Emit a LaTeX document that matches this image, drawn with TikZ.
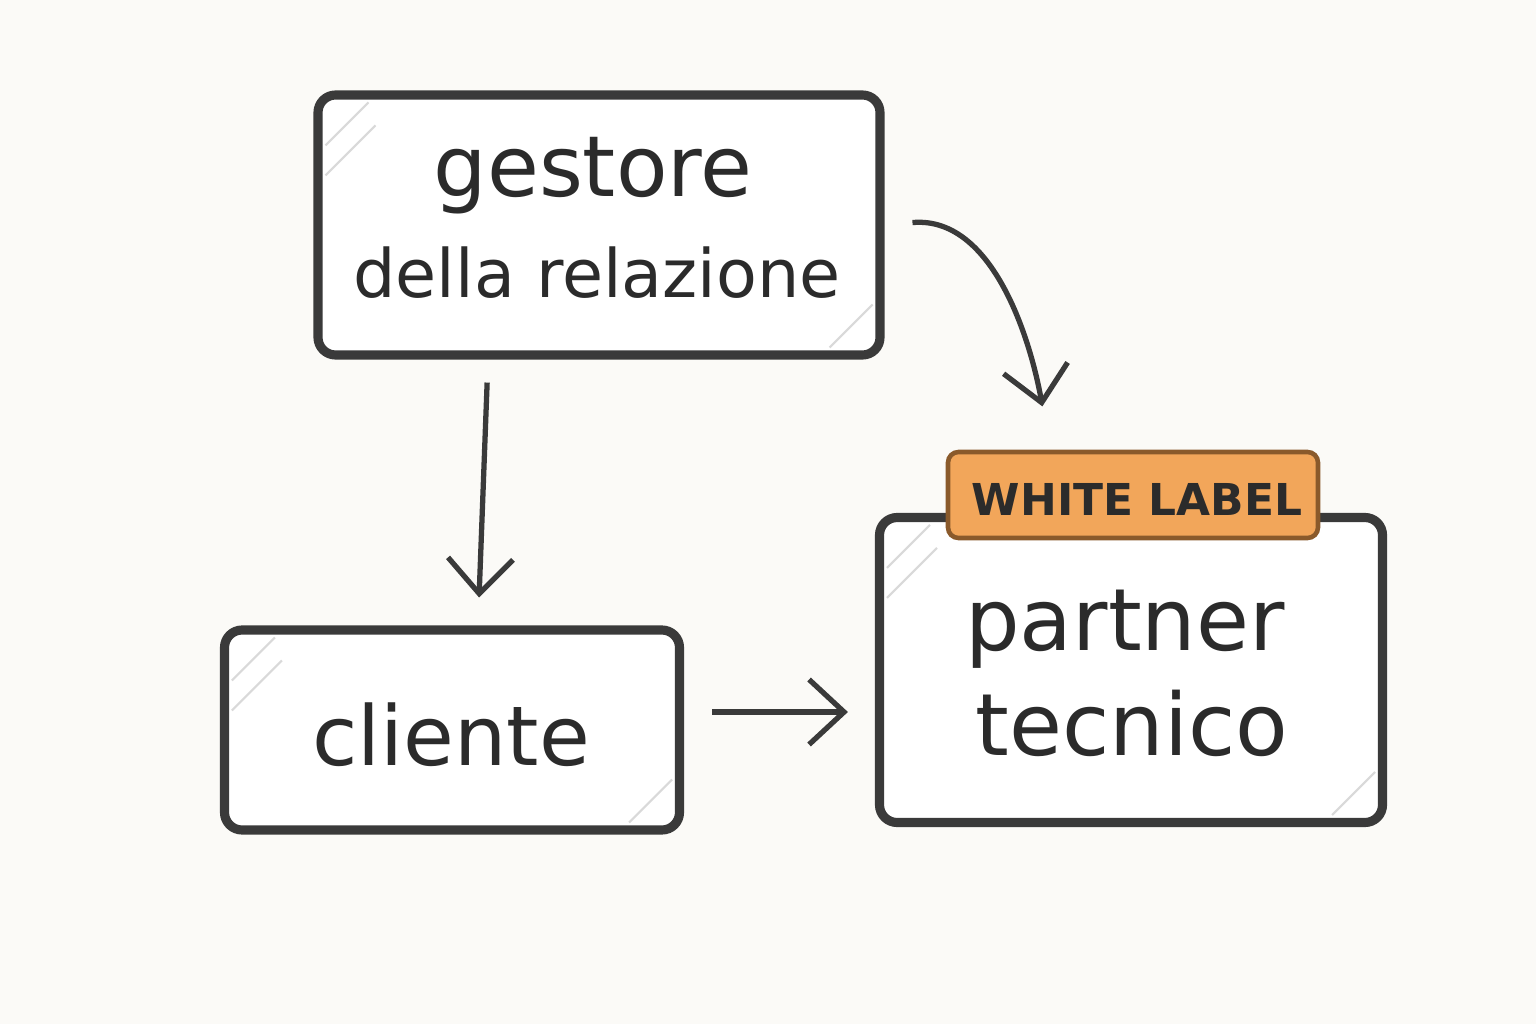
\documentclass[tikz,border=0pt]{standalone}
\usepackage{fontspec}
\setmainfont{DejaVu Sans}
\usetikzlibrary{arrows.meta}
\definecolor{paper}{HTML}{FBFAF7}
\definecolor{pencil}{HTML}{3A3A3A}
\definecolor{ink}{HTML}{2B2B2B}
\definecolor{tagfill}{HTML}{F2A65A}
\definecolor{tagline}{HTML}{8A5A2B}

\begin{document}
\begin{tikzpicture}
\tikzstyle{box}=[rectangle, draw=pencil, line width=2.6pt, rounded corners=5pt, fill=white, inner sep=0pt]
\tikzstyle{tag}=[box, draw=tagline, line width=1.3pt, rounded corners=3pt, fill=tagfill]
\tikzstyle{word}=[text=ink, anchor=base, inner sep=0pt]
\tikzstyle{hatch}=[black!15, line width=0.6pt]
\tikzstyle{pline}=[draw=pencil, line width=1.5pt, -{Straight Barb[length=3.5mm, width=6.5mm]}]

% Draw the paper
\fill[paper] (0,0) rectangle (15.36,10.24);
\useasboundingbox (0,0) rectangle (15.36,10.24);

% Draw the boxes
\node[box, minimum width=5.62cm, minimum height=2.6cm] (gestore) at (5.99, 7.99) {};
\node[box, minimum width=4.55cm, minimum height=2.0cm] (cliente) at (4.52, 2.94) {};
\node[box, minimum width=5.03cm, minimum height=3.05cm] (partner) at (11.31, 3.54) {};

% Pencil shading in the corners
\foreach \n in {gestore, cliente, partner} {
    \draw[hatch] ([xshift=0.12cm, yshift=-0.55cm]\n.north west) -- ++(0.43, 0.43);
    \draw[hatch] ([xshift=0.12cm, yshift=-0.85cm]\n.north west) -- ++(0.5, 0.5);
    \draw[hatch] ([xshift=-0.55cm, yshift=0.12cm]\n.south east) -- ++(0.43, 0.43);
};

\node[tag, minimum width=3.70cm, minimum height=0.86cm] (white) at (11.33, 5.29) {};

% Draw the texts
\node[word, font=\fontsize{24}{24}\selectfont] (gestoreA) at (5.93, 8.27) {gestore};
\node[word, font=\fontsize{19}{19}\selectfont] (gestoreB) at (5.97, 7.27) {della relazione};
\node[word, font=\fontsize{23.5}{24}\selectfont] (clienteA) at (4.51, 2.59) {cliente};
\node[word, font=\fontsize{24.5}{25}\selectfont] (partnerA) at (11.25, 3.74) {partner};
\node[word, font=\fontsize{24.5}{25}\selectfont] (partnerB) at (11.32, 2.69) {tecnico};
\node[word, font=\bfseries\fontsize{12.5}{13}\selectfont] (whiteA) at (11.37, 5.09) {WHITE LABEL};

% Draw the arrows
\draw[pline, shorten <=0.23cm, shorten >=0.28cm] ([xshift=-1.11cm]gestore.south) -- ([xshift=0.26cm]cliente.north);
\draw[pline, shorten <=0.28cm, shorten >=0.44cm] (gestore.east) to[out=5, in=100] ([xshift=-0.83cm]white.north);
\draw[pline, shorten <=0.28cm, shorten >=0.27cm] ([yshift=0.18cm]cliente.east) -- ([yshift=0.18cm]cliente.east -| partner.west);

\end{tikzpicture}
\end{document}
